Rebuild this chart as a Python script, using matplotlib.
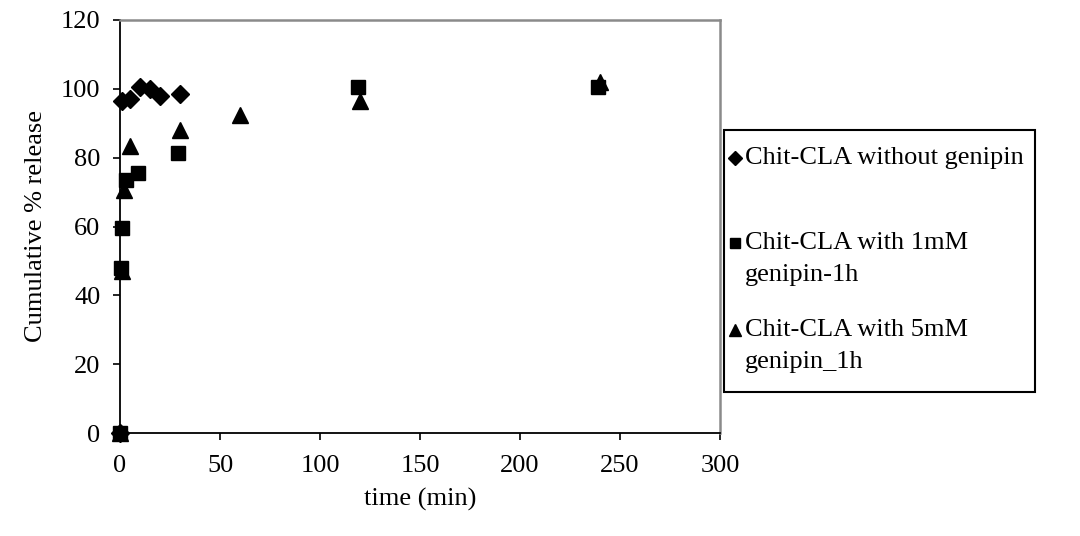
import matplotlib
matplotlib.use("Agg")
import matplotlib.pyplot as plt
from matplotlib.lines import Line2D
from matplotlib.patches import Rectangle

plt.rcParams['font.family'] = ['Liberation Serif', 'DejaVu Serif']

# Cumulative release (%) over time (min)
time_none = [0, 1, 5, 10, 15, 20, 30]
rel_none = [0, 96.5, 97, 100.5, 100, 98, 98.5]

time_1mM = [0, 0.5, 1, 3, 9, 29, 119, 239]
rel_1mM = [0, 48, 59.5, 73.5, 75.5, 81.5, 100.5, 100.5]

time_5mM = [0, 1, 2, 5, 30, 60, 120, 240]
rel_5mM = [0, 47, 70.5, 83.5, 88, 92.5, 96.5, 102]

labels = [["Chit-CLA without genipin"],
          ["Chit-CLA with 1mM", "genipin-1h"],
          ["Chit-CLA with 5mM", "genipin_1h"]]

x_ticks = [0, 50, 100, 150, 200, 250, 300]
y_ticks = [0, 20, 40, 60, 80, 100, 120]

W, H = 1080, 536
fig = plt.figure(figsize=(W / 100, H / 100), dpi=100)
ax = fig.add_axes([120 / W, 1 - 433 / H, 600 / W, 413 / H])

ax.plot(time_none, rel_none, linestyle='none', marker='D', ms=9.5,
        color='black', clip_on=False, zorder=3)
ax.plot(time_1mM, rel_1mM, linestyle='none', marker='s', ms=9.5,
        color='black', clip_on=False, zorder=3)
ax.plot(time_5mM, rel_5mM, linestyle='none', marker='^', ms=11,
        color='black', clip_on=False, zorder=3)

ax.set_xlim(0, 300)
ax.set_ylim(0, 120)
ax.set_xticks(x_ticks)
ax.set_yticks(y_ticks)
ax.tick_params(direction='out', length=5, width=1.2, labelsize=19,
               colors='black')
ax.tick_params(axis='x', pad=11)
ax.tick_params(axis='y', pad=9)

for side in ('left', 'bottom'):
    ax.spines[side].set_color('black')
    ax.spines[side].set_linewidth(1.3)
for side in ('top', 'right'):
    ax.spines[side].set_color('#8a8a8a')
    ax.spines[side].set_linewidth(1.8)

ax.set_xlabel("time (min)", fontsize=19, labelpad=8)
ax.set_ylabel("Cumulative % release", fontsize=19, labelpad=10)

# Legend box drawn in figure pixel coordinates
def fx(px):
    return px / W

def fy(py):
    return 1 - py / H

box = Rectangle((fx(724), fy(392)), fx(1035) - fx(724), fy(130) - fy(392),
                transform=fig.transFigure, facecolor='white',
                edgecolor='black', linewidth=1.5)
fig.add_artist(box)

markers = ['D', 's', '^']
marker_sizes = [7, 7, 8]
line_rows = [[158], [243, 275], [330, 362]]
for mk, msz, rows, lab in zip(markers, marker_sizes, line_rows, labels):
    fig.add_artist(Line2D([fx(735)], [fy(rows[0])], marker=mk, ms=msz,
                          color='black', linestyle='none',
                          transform=fig.transFigure))
    for row, text in zip(rows, lab):
        fig.text(fx(745), fy(row), text, fontsize=19, va='center',
                 ha='left')

fig.savefig("out.png", dpi=100)
